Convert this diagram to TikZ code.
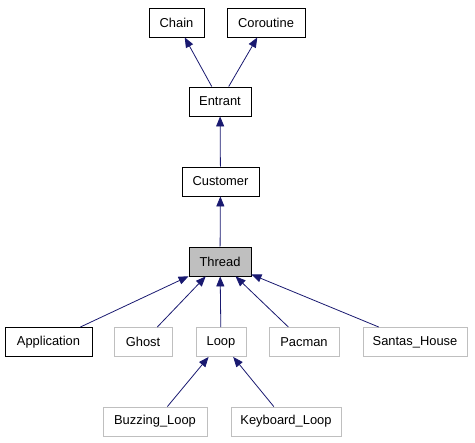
\documentclass[tikz,border=0pt]{standalone}
\usepackage{fontspec}
\setmainfont{Liberation Sans}
\usepackage{tikz}
\usetikzlibrary{arrows.meta}

\definecolor{edgeblue}{HTML}{191970}
\definecolor{boxgray}{HTML}{BFBFBF}

\begin{document}
\begin{tikzpicture}[
    x = 1pt, y = -1pt,
    every node/.style = {draw, rectangle, inner sep = 0pt, minimum height = 29pt,
                         font = \fontsize{12.9}{15}\selectfont, line width = 0.9pt},
    docbox/.style = {draw = black},
    undocbox/.style = {draw = boxgray},
    current/.style = {draw = black, fill = boxgray},
    inherit/.style = {draw = edgeblue, line width = 0.8pt,
                      -{Triangle[length = 10pt, width = 8pt]}}
  ]
  \useasboundingbox (0,0) rectangle (475,443);

  % top of the hierarchy
  \node[docbox, minimum width = 55pt] (Chain) at (176.5,22.5) {Chain};
  \node[docbox, minimum width = 78pt] (Coroutine) at (266,22.5) {Coroutine};
  \node[docbox, minimum width = 62pt] (Entrant) at (220,101.5) {Entrant};
  \node[docbox, minimum width = 77pt] (Customer) at (220.5,181.5) {Customer};
  \node[current, minimum width = 62pt] (Thread) at (220,261.5) {Thread};

  % derived classes
  \node[docbox, minimum width = 87pt] (Application) at (48.5,342) {Application};
  \node[undocbox, minimum width = 58pt] (Ghost) at (143,342) {Ghost};
  \node[undocbox, minimum width = 50pt] (Loop) at (221,342) {Loop};
  \node[undocbox, minimum width = 70pt] (Pacman) at (304,342) {Pacman};
  \node[undocbox, minimum width = 104pt] (SantasHouse) at (415,342) {Santas\_House};
  \node[undocbox, minimum width = 104pt] (BuzzingLoop) at (155,421.5) {Buzzing\_Loop};
  \node[undocbox, minimum width = 110pt] (KeyboardLoop) at (286,421.5) {Keyboard\_Loop};

  % Edges
  \draw[inherit] (Entrant) -- (Chain);
  \draw[inherit] (Entrant) -- (Coroutine);
  \draw[inherit] (Customer) -- (Entrant);
  \draw[inherit] (Thread) -- (Customer);
  \draw[inherit] (Application) -- (Thread);
  \draw[inherit] (Ghost) -- (Thread);
  \draw[inherit] (Loop) -- (Thread);
  \draw[inherit] (Pacman) -- (Thread);
  \draw[inherit] (SantasHouse) -- (Thread);
  \draw[inherit] (BuzzingLoop) -- (Loop);
  \draw[inherit] (KeyboardLoop) -- (Loop);

\end{tikzpicture}
\end{document}
